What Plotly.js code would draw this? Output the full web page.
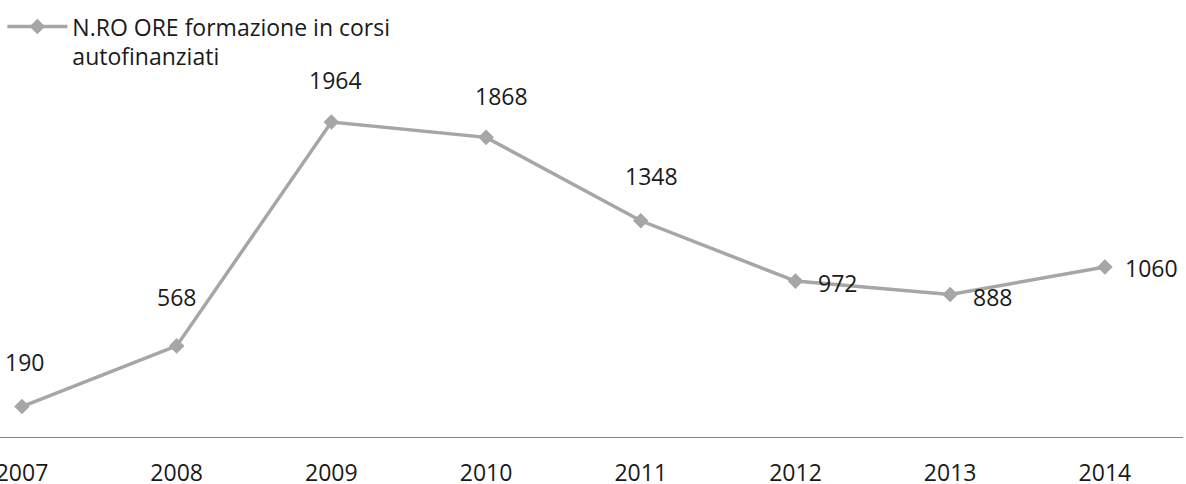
<!DOCTYPE html>
<html>
<head>
<meta charset="utf-8">
<script src="https://cdn.plot.ly/plotly-3.0.1.min.js"></script>
<style>html,body{margin:0;padding:0;background:#fff;}#chart{width:1186px;height:484px;}</style>
</head>
<body>
<div id="chart"></div>
<script>
const years = [2007, 2008, 2009, 2010, 2011, 2012, 2013, 2014];
const hours = [190, 568, 1964, 1868, 1348, 972, 888, 1060];
const seriesName = "N.RO ORE formazione in corsi<br>autofinanziati";
// label offsets in pixels (label placement, not data)
const labelDx = [3, 0, 4, 15, 11, 42, 42, 47];
const labelDy = [45, 49, 42, 41, 45, -2, -2, -1];

const lineColor = "#A6A6A6";
const textColor = "#1a1a1a";
const fontFamily = "'Open Sans', sans-serif";
const fs = 23;

const trace = {
  x: years,
  y: hours,
  type: "scatter",
  mode: "lines+markers",
  name: seriesName,
  line: {color: lineColor, width: 3.5},
  marker: {symbol: "diamond", size: 12, color: lineColor},
  hoverinfo: "x+y"
};

const annotations = years.map((yr, i) => ({
  x: yr, y: hours[i], xref: "x", yref: "y",
  text: String(hours[i]), showarrow: false,
  xshift: labelDx[i], yshift: labelDy[i],
  font: {family: fontFamily, size: fs, color: textColor}
}));

const layout = {
  width: 1186, height: 484,
  margin: {l: 0, r: 3, t: 36, b: 47, pad: 0},
  paper_bgcolor: "#fff", plot_bgcolor: "#fff",
  font: {family: fontFamily, size: fs, color: textColor},
  showlegend: true,
  legend: {
    x: 0.002, y: 1.077, xref: "paper", yref: "paper", xanchor: "left", yanchor: "top",
    font: {family: fontFamily, size: fs, color: textColor},
    bgcolor: "rgba(0,0,0,0)", itemwidth: 60, valign: "top",
    tracegroupgap: 0
  },
  xaxis: {
    range: [2006.858, 2014.505],
    tickvals: years, ticktext: years.map(String),
    showgrid: false, zeroline: false,
    showline: true, linecolor: "#868686", linewidth: 1,
    ticks: "", ticklabelstandoff: 15, ticklabeloverflow: "allow",
    tickfont: {family: fontFamily, size: fs, color: textColor}
  },
  yaxis: {
    range: [0, 2500], visible: false, showgrid: false, zeroline: false
  },
  annotations: annotations
};

Plotly.newPlot("chart", [trace], layout, {displayModeBar: false, staticPlot: true});
</script>
</body>
</html>
